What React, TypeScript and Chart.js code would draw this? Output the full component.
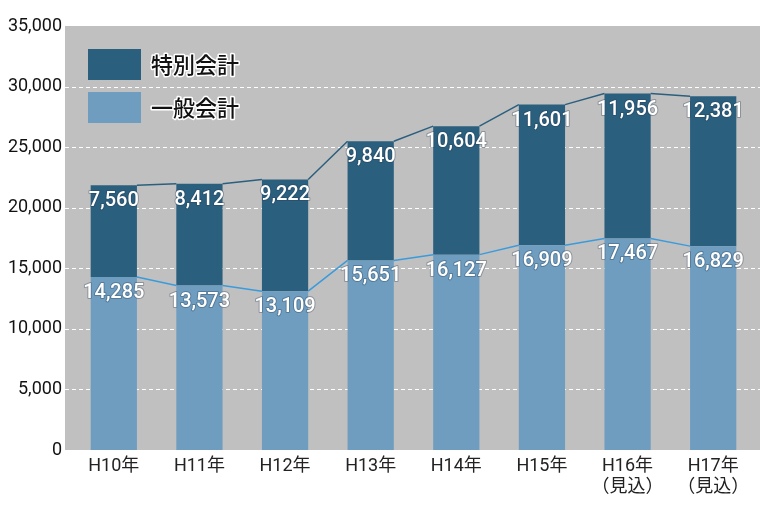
import React, { useEffect, useRef } from "react";
import { Chart, registerables } from "chart.js";

Chart.register(...registerables);

const categories: (string | string[])[] = [
  "H10年", "H11年", "H12年", "H13年", "H14年", "H15年",
  ["H16年", "（見込）"], ["H17年", "（見込）"],
];
const ippan = [14285, 13573, 13109, 15651, 16127, 16909, 17467, 16829];
const tokubetsu = [7560, 8412, 9222, 9840, 10604, 11601, 11956, 12381];
const seriesNames = ["一般会計", "特別会計"];
const yMax = 35000;
const yStep = 5000;

const DARK = "#2B5F7E";
const LIGHT = "#6F9DC0";
const BG = "#C0C0C0";
const LINE_LIGHT = "#3A9BDC";

const bgPlugin = {
  id: "bgPlugin",
  beforeDraw(chart: any) {
    const { ctx, chartArea: a } = chart;
    ctx.save();
    ctx.fillStyle = BG;
    const l = a.left - 6;
    const r = a.right + 4;
    ctx.fillRect(l, a.top, r - l, a.bottom - a.top);
    const ys = chart.scales.y;
    ctx.strokeStyle = "#ffffff";
    ctx.lineWidth = 1;
    ctx.setLineDash([4, 3]);
    ys.ticks.forEach((t: any) => {
      if (t.value === 0 || t.value === yMax) return;
      const y = Math.round(ys.getPixelForValue(t.value)) + 0.5;
      ctx.beginPath();
      ctx.moveTo(l, y);
      ctx.lineTo(r, y);
      ctx.stroke();
    });
    ctx.restore();
  },
};

const overlayPlugin = {
  id: "overlayPlugin",
  afterDatasetsDraw(chart: any) {
    const { ctx, chartArea: a } = chart;
    ctx.save();
    const drawSeriesLine = (dsIndex: number, color: string) => {
      const meta = chart.getDatasetMeta(dsIndex);
      ctx.strokeStyle = color;
      ctx.lineWidth = 1.5;
      ctx.beginPath();
      for (let i = 0; i < meta.data.length - 1; i++) {
        const b1 = meta.data[i];
        const b2 = meta.data[i + 1];
        ctx.moveTo(b1.x + b1.width / 2, b1.y);
        ctx.lineTo(b2.x - b2.width / 2, b2.y);
      }
      ctx.stroke();
    };
    drawSeriesLine(0, LINE_LIGHT);
    drawSeriesLine(1, DARK);

    ctx.font = "500 20px Roboto, 'Noto Sans CJK JP', sans-serif";
    ctx.textAlign = "center";
    ctx.textBaseline = "middle";
    ctx.lineJoin = "round";
    chart.data.datasets.forEach((ds: any, di: number) => {
      const meta = chart.getDatasetMeta(di);
      meta.data.forEach((bar: any, i: number) => {
        const txt = ds.data[i].toLocaleString("en-US");
        const y = bar.y + 16;
        ctx.lineWidth = 2;
        ctx.strokeStyle = "rgba(40,60,80,0.35)";
        ctx.strokeText(txt, bar.x, y);
        ctx.fillStyle = "#ffffff";
        ctx.fillText(txt, bar.x, y);
      });
    });

    const items = [
      { label: seriesNames[1], color: DARK },
      { label: seriesNames[0], color: LIGHT },
    ];
    ctx.font = "500 22px 'Noto Sans CJK JP', sans-serif";
    ctx.textAlign = "left";
    const lx = a.left - 6;
    items.forEach((it, k) => {
      const top = a.top + 23 + k * 43;
      ctx.fillStyle = it.color;
      ctx.fillRect(lx + 23, top, 53, 31);
      ctx.lineWidth = 3;
      ctx.strokeStyle = "#ffffff";
      ctx.strokeText(it.label, lx + 86, top + 16);
      ctx.fillStyle = "#111111";
      ctx.fillText(it.label, lx + 86, top + 16);
    });
    ctx.restore();
  },
};

export default function App() {
  const ref = useRef<HTMLCanvasElement>(null);
  useEffect(() => {
    document.body.style.margin = "0";
    const chart = new Chart(ref.current!, {
      type: "bar",
      data: {
        labels: categories,
        datasets: [
          { label: seriesNames[0], data: ippan, backgroundColor: LIGHT, barPercentage: 0.54, categoryPercentage: 1 },
          { label: seriesNames[1], data: tokubetsu, backgroundColor: DARK, barPercentage: 0.54, categoryPercentage: 1 },
        ],
      },
      options: {
        animation: false,
        responsive: false,
        layout: { padding: { top: 26, right: 7, left: 0, bottom: 0 } },
        plugins: { legend: { display: false }, tooltip: { enabled: false } },
        scales: {
          x: {
            stacked: true,
            grid: { display: false, drawTicks: false },
            border: { display: false },
            ticks: {
              color: "#222",
              font: { size: 18, family: "Roboto, 'Noto Sans CJK JP', sans-serif", lineHeight: 1.15 },
              padding: 6,
              maxRotation: 0,
              autoSkip: false,
            },
            afterFit: (s: any) => { s.height = 56; },
          },
          y: {
            stacked: true,
            min: 0,
            max: yMax,
            ticks: {
              stepSize: yStep,
              color: "#111",
              font: { size: 18, family: "Roboto, 'Noto Sans CJK JP', sans-serif" },
              padding: 9,
              callback: (v: any) => Number(v).toLocaleString("en-US"),
            },
            grid: { display: false, drawTicks: false },
            border: { display: false },
            afterFit: (s: any) => { s.width = 71; },
          },
        },
      },
      plugins: [bgPlugin, overlayPlugin],
    });
    return () => chart.destroy();
  }, []);
  return (
    <div style={{ width: 763, height: 506 }}>
      <canvas ref={ref} width={763} height={506} style={{ display: "block" }} />
    </div>
  );
}
